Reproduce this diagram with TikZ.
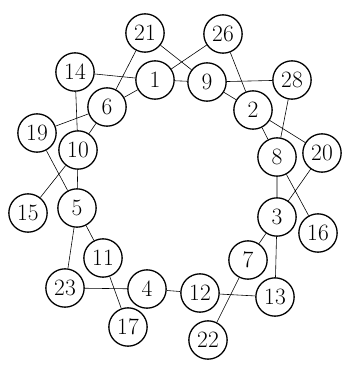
\documentclass[tikz,border=0pt]{standalone}
\begin{document}
\begin{tikzpicture}[x=0.03cm, y=-0.03cm, every node/.style={font=\fontsize{20}{24}\selectfont},
  vtx/.style={draw,circle,line width=1.1pt,minimum size=1.15cm,inner sep=0pt},
  edge/.style={line width=0.5pt}]
\useasboundingbox (0,0) rectangle (343,365);
% outer vertices
\node[vtx] (v21) at (145,33) {21}; \node[vtx] (v26) at (223,34) {26};
\node[vtx] (v14) at (75,72) {14}; \node[vtx] (v28) at (292,80) {28};
\node[vtx] (v19) at (37,133) {19}; \node[vtx] (v20) at (322,153) {20};
\node[vtx] (v15) at (28,213) {15}; \node[vtx] (v16) at (318,233) {16};
\node[vtx] (v23) at (65,288) {23}; \node[vtx] (v13) at (275,297) {13};
\node[vtx] (v17) at (128,327) {17}; \node[vtx] (v22) at (208,340) {22};
% inner vertices
\node[vtx] (v1) at (155,80) {1}; \node[vtx] (v9) at (207,82) {9};
\node[vtx] (v6) at (107,107) {6}; \node[vtx] (v2) at (253,110) {2};
\node[vtx] (v10) at (78,150) {10}; \node[vtx] (v8) at (277,157) {8};
\node[vtx] (v5) at (77,208) {5}; \node[vtx] (v3) at (277,217) {3};
\node[vtx] (v11) at (103,258) {11}; \node[vtx] (v7) at (248,260) {7};
\node[vtx] (v4) at (147,289) {4}; \node[vtx] (v12) at (200,293) {12};
% edges
\draw[edge] (v21)--(v9) (v21)--(v6) (v26)--(v1) (v26)--(v2) (v14)--(v1) (v14)--(v10);
\draw[edge] (v1)--(v6) (v1)--(v9) (v9)--(v28) (v9)--(v2) (v28)--(v8) (v2)--(v8) (v2)--(v20);
\draw[edge] (v6)--(v19) (v6)--(v10) (v19)--(v5) (v10)--(v15) (v10)--(v5);
\draw[edge] (v8)--(v3) (v8)--(v16) (v20)--(v3) (v3)--(v7) (v3)--(v13);
\draw[edge] (v5)--(v23) (v5)--(v11) (v11)--(v17) (v23)--(v4) (v4)--(v12) (v12)--(v13) (v7)--(v22);
\end{tikzpicture}
\end{document}
